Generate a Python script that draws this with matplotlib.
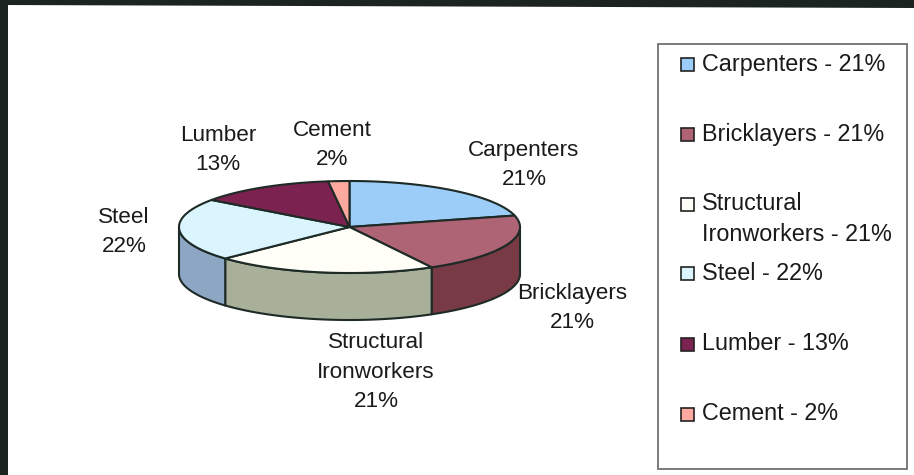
import numpy as np
from matplotlib import pyplot as plt
from matplotlib.patches import Polygon, Rectangle

plt.rcParams['font.family'] = ['Liberation Sans', 'DejaVu Sans']

categories = ['Carpenters', 'Bricklayers', 'Structural\nIronworkers', 'Steel', 'Lumber', 'Cement']
values = [21, 21, 21, 22, 13, 2]

top_colors = ['#9CCDF8', '#AE6475', '#FFFFF8', '#DAF5FD', '#7C2250', '#FDA9A0']
side_colors = ['#6F8FAE', '#783A44', '#A9B09A', '#8CA6C4', '#561838', '#B07570']
edge = '#1E2A26'

# pie geometry, pixels
cx, cy = 349.5, 227
rx, ry = 170.5, 46
depth = 47

# label centres, pixels
label_pos = [(524, 165), (572, 308), (376, 372), (124, 232), (218, 150), (332, 145)]
legend_y = [64, 134, 219, 273, 344, 414]

fig = plt.figure(figsize=(9.14, 4.75), dpi=100, facecolor='white')
ax = fig.add_axes([0, 0, 1, 1])
ax.set_xlim(0, 914)
ax.set_ylim(475, 0)
ax.axis('off')

# scan border, the page sits a little crooked
ax.add_patch(Polygon([(0, 0), (914, 0), (914, 8), (0, 5)], closed=True, color='#1C2422', lw=0))
ax.add_patch(Rectangle((0, 0), 8, 475, color='#1C2422', lw=0))


def rim(a0, a1):
    # a measured clockwise from the top of the pie
    t = np.radians(np.linspace(a0, a1, 80))
    return cx + rx * np.sin(t), cy - ry * np.cos(t)


edges = np.cumsum([0] + values) / sum(values) * 360

# side wall: only the front half shows
for i in range(len(values)):
    a0, a1 = max(edges[i], 90), min(edges[i + 1], 270)
    if a0 >= a1:
        continue
    x, y = rim(a0, a1)
    pts = np.r_[np.c_[x, y], np.c_[x[::-1], y[::-1] + depth]]
    ax.add_patch(Polygon(pts, closed=True, fc=side_colors[i], ec=edge, lw=1.5, joinstyle='round'))

# top face
for i in range(len(values)):
    x, y = rim(edges[i], edges[i + 1])
    pts = np.r_[[[cx, cy]], np.c_[x, y]]
    ax.add_patch(Polygon(pts, closed=True, fc=top_colors[i], ec=edge, lw=1.5, joinstyle='round'))

# labels on the pie
for name, val, (lx, ly) in zip(categories, values, label_pos):
    ax.text(lx, ly, f'{name}\n{val}%', ha='center', va='center', fontsize=16.2,
            color='#1A1A1A', linespacing=1.56)

# legend
ax.add_patch(Rectangle((658, 44), 249, 425, fc='white', ec='#707070', lw=1.3))
for name, val, col, ly in zip(categories, values, top_colors, legend_y):
    ax.text(702, ly, f'{name} - {val}%', ha='left', va='center', fontsize=16.8,
            color='#1A1A1A', linespacing=1.42)
    sy = ly - 15 if '\n' in name else ly
    ax.add_patch(Rectangle((680.5, sy - 6.5), 13, 13, fc=col, ec='#222222', lw=1.2))

plt.savefig('out.png', dpi=100)
